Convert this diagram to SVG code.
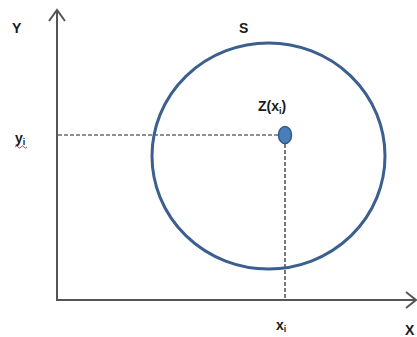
<svg xmlns="http://www.w3.org/2000/svg" width="417" height="337" viewBox="0 0 417 337">
<style>
.ax{stroke:#555;stroke-width:2;fill:none}
.dash{stroke:#222;stroke-width:1.2;stroke-dasharray:4,2;fill:none}
.t{font-family:"Liberation Sans",Arial,sans-serif;font-weight:bold;font-size:14px;fill:#1a1a1a}
.s{font-size:9px}
</style>
<rect width="417" height="337" fill="#fff"/>
<g id="connectors">
<line class="ax" x1="57" y1="10" x2="57" y2="300"/>
<polyline class="ax" points="49,21 57,10 65,21" stroke-width="1.5"/>
<line class="ax" x1="56" y1="300" x2="415" y2="300"/>
<polyline class="ax" points="406,292 416,300 406,308" stroke-width="1.5"/>
<line class="dash" x1="58" y1="135" x2="279" y2="135"/>
<line class="dash" x1="285" y1="144" x2="285" y2="299"/>
</g>
<g id="region-S">
<ellipse cx="268.5" cy="156" rx="116.5" ry="113" fill="none" stroke="#3b5f8f" stroke-width="3"/>
<text class="t" x="239" y="33">S</text>
</g>
<g id="point-Z">
<ellipse cx="285" cy="135" rx="6.5" ry="8.5" fill="#4a7ebb" stroke="#2e5c8a" stroke-width="1.5"/>
<text class="t" x="258" y="111">Z(x<tspan class="s" dy="3">i</tspan><tspan dy="-3">)</tspan></text>
</g>
<g id="label-Y"><text class="t" x="12" y="33">Y</text></g>
<g id="label-yi">
<text class="t" x="15" y="143">y<tspan class="s" dy="2">i</tspan></text>
<path d="M15,147 q1.5,-2 3,0 t3,0 t3,0 t3,0" stroke="#d03030" stroke-width="0.9" fill="none"/>
</g>
<g id="label-xi"><text class="t" x="276" y="330">x<tspan class="s" dy="2">i</tspan></text></g>
<g id="label-X"><text class="t" x="405" y="335">X</text></g>
</svg>
